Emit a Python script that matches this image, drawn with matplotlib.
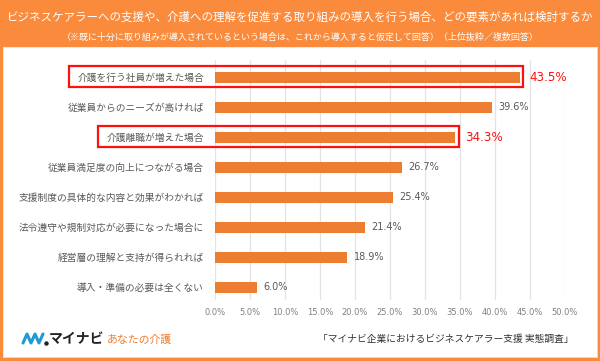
import matplotlib.pyplot as plt
from matplotlib.patches import Rectangle
from matplotlib.lines import Line2D
from matplotlib.transforms import blended_transform_factory

plt.rcParams["font.family"] = ["Noto Sans CJK JP", "DejaVu Sans"]

# -----------------------------------------------------------------------------
# Data
# -----------------------------------------------------------------------------

CATEGORIES = [
    "介護を行う社員が増えた場合",
    "従業員からのニーズが高ければ",
    "介護離職が増えた場合",
    "従業員満足度の向上につながる場合",
    "支援制度の具体的な内容と効果がわかれば",
    "法令遵守や規制対応が必要になった場合に",
    "経営層の理解と支持が得られれば",
    "導入・準備の必要は全くない",
]
VALUES = [43.5, 39.6, 34.3, 26.7, 25.4, 21.4, 18.9, 6.0]
HIGHLIGHT = [0, 2]
X_TICKS = [0, 5, 10, 15, 20, 25, 30, 35, 40, 45, 50]

TITLE = "ビジネスケアラーへの支援や、介護への理解を促進する取り組みの導入を行う場合、どの要素があれば検討するか"
SUBTITLE = "（※既に十分に取り組みが導入されているという場合は、これから導入すると仮定して回答）（上位抜粋／複数回答）"
SOURCE = "「マイナビ企業におけるビジネスケアラー支援 実態調査」"

# -----------------------------------------------------------------------------
# Style
# -----------------------------------------------------------------------------

HEADER_ORANGE = "#FA8B3C"
BAR_ORANGE = "#ED7D31"
RED = "#FF1010"
GRAY_TEXT = "#595959"
TICK_GRAY = "#808080"
GRID_GRAY = "#E3E3E3"

W, H = 600, 361

fig = plt.figure(figsize=(W / 100, H / 100), dpi=100)
fig.patch.set_facecolor(HEADER_ORANGE)

# white panel
panel = fig.add_axes([3 / W, 1 - 357 / H, 594 / W, (357 - 47) / H])
panel.set_facecolor("white")
panel.set_xticks([])
panel.set_yticks([])
for s in panel.spines.values():
    s.set_color("#E6E6E6")
    s.set_linewidth(0.6)

fig.text(0.5, 1 - 17 / H, TITLE, color="white", fontsize=8.3,
         ha="center", va="center")
fig.text(0.5, 1 - 37 / H, SUBTITLE, color="white", fontsize=6.5,
         ha="center", va="center")

ax = fig.add_axes([215 / W, 1 - 300 / H, 350 / W, 240 / H])
ax.set_facecolor("none")
ypos = list(range(len(CATEGORIES)))
ax.barh(ypos, VALUES, height=0.37, color=BAR_ORANGE, zorder=3)
ax.set_xlim(0, 50)
ax.set_ylim(7.43, -0.57)
ax.set_xticks(X_TICKS)
ax.set_xticklabels([f"{t:.1f}%" for t in X_TICKS], fontsize=6,
                   color=TICK_GRAY, family="DejaVu Sans")
ax.set_yticks(ypos)
ax.set_yticklabels(CATEGORIES, fontsize=7, color=GRAY_TEXT)
ax.tick_params(length=0, pad=8)
ax.tick_params(axis="x", pad=6)
ax.grid(True, axis="x", color=GRID_GRAY, linewidth=0.9, zorder=0)
for s in ax.spines.values():
    s.set_visible(False)

for i, v in enumerate(VALUES):
    if i in HIGHLIGHT:
        ax.annotate(f"{v:.1f}%", (v, i), xytext=(7, 0),
                    textcoords="offset points", va="center", ha="left",
                    fontsize=8.6, color=RED, family="DejaVu Sans")
    else:
        ax.annotate(f"{v:.1f}%", (v, i), xytext=(4.5, 0),
                    textcoords="offset points", va="center", ha="left",
                    fontsize=7, color=GRAY_TEXT, family="DejaVu Sans")

# red frames around highlighted rows, from label start to bar end
fig.canvas.draw()
renderer = fig.canvas.get_renderer()
labels = ax.get_yticklabels()
inv = ax.transData.inverted()
trans = blended_transform_factory(ax.transData, ax.transData)
for i in HIGHLIGHT:
    bb = labels[i].get_window_extent(renderer)
    x_left = inv.transform((bb.x0 - 8, 0))[0]
    x_right = VALUES[i] + 0.5
    ax.add_patch(Rectangle((x_left, i - 0.36), x_right - x_left, 0.68,
                           fill=False, edgecolor=RED, linewidth=1.6,
                           transform=trans, clip_on=False, zorder=4))

# logo
fig.add_artist(Line2D([23 / W, 27 / W, 31 / W, 35 / W, 39 / W, 43 / W],
                      [1 - 343 / H, 1 - 334 / H, 1 - 343 / H, 1 - 334 / H,
                       1 - 343 / H, 1 - 334 / H],
                      color="#1E9BD7", linewidth=2.2, solid_capstyle="round",
                      solid_joinstyle="round"))
fig.add_artist(Line2D([46 / W], [1 - 342.5 / H], marker="o", markersize=2.2,
                      color="#222222", linestyle="none"))
fig.text(49 / W, 1 - 339 / H, "マイナビ", fontsize=10, fontweight="bold",
         color="#222222", ha="left", va="center")
fig.text(107 / W, 1 - 339.5 / H, "あなたの介護", fontsize=7.8,
         color=BAR_ORANGE, ha="left", va="center")

fig.text(446 / W, 1 - 339 / H, SOURCE, fontsize=7, color="#333333",
         ha="center", va="center")

fig.savefig("out.png", dpi=100, facecolor=fig.get_facecolor())
